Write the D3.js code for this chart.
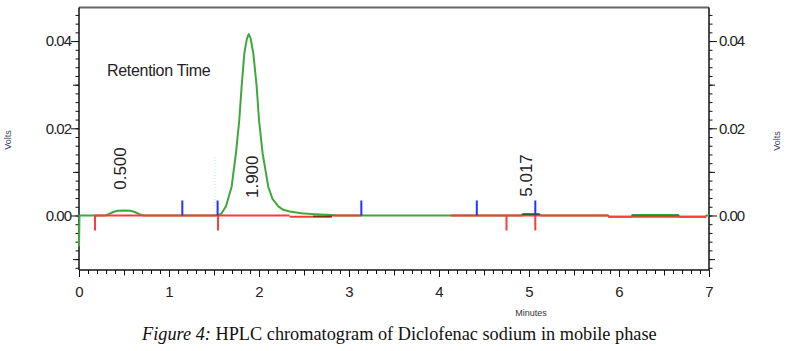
<!DOCTYPE html>
<html>
<head>
<meta charset="utf-8">
<script src="https://cdn.jsdelivr.net/npm/d3@7"></script>
<style>
  html, body { margin: 0; padding: 0; background: #fff; }
  svg { display: block; }
  text { font-family: "Liberation Sans", Arial, sans-serif; }
</style>
</head>
<body>
<svg id="chart" width="792" height="351"></svg>
<script>
// ---- data ----
const traceTime  = [0, 0.005, 0.17, 0.29, 0.33, 0.38, 0.43, 0.5, 0.57, 0.62, 0.67, 0.72, 1.50, 1.55, 1.585, 1.633, 1.696, 1.744, 1.781, 1.807, 1.837, 1.865, 1.886, 1.905, 1.937, 1.974, 2.0, 2.04, 2.103, 2.15, 2.215, 2.27, 2.34, 2.47, 2.62, 2.81, 2.85, 4.92, 4.95, 5.10, 5.14, 5.88, 5.89, 6.14, 6.15, 6.66, 6.67, 6.96, 6.97, 7.0];
const traceVolts = [-0.0071, 0, 0, 0, 0.0003, 0.0008, 0.00110, 0.00115, 0.00110, 0.0008, 0.0003, 0, 0, 0.0001, 0.0005, 0.0021, 0.0066, 0.0143, 0.0219, 0.0296, 0.0372, 0.0405, 0.0416, 0.0408, 0.0372, 0.0296, 0.0219, 0.0143, 0.0066, 0.0038, 0.0021, 0.0013, 0.0009, 0.0005, 0.0003, 0.0001, 0, 0, 0.0003, 0.0003, 0, 0, -0.0003, -0.0003, 0.0001, 0.0001, -0.0003, -0.0003, 0, 0];

const baselineStart = [0.17, 2.34, 2.81, 4.13, 5.88];
const baselineEnd   = [2.34, 2.81, 3.14, 5.88, 6.97];
const baselineLevel = [0, -0.0003, 0, 0, -0.0003];

const eventStarts = [1.148, 1.54, 3.137, 4.42, 5.07];   // blue marks
const eventEnds   = [0.178, 1.545, 4.75, 5.07];         // red marks

const peakLabels = ["0.500", "1.900", "5.017"];
const peakLabelTime  = [0.456, 1.922, 4.967];
const peakLabelVolts = [0.0059, 0.0040, 0.0043];

const xTickLabels = [0, 1, 2, 3, 4, 5, 6, 7];
const yTickLabels = [0.00, 0.02, 0.04];

const annotation = "Retention Time";
const xTitle = "Minutes";
const yTitle = "Volts";
const captionItalic = "Figure 4:";
const captionRest = " HPLC chromatogram of Diclofenac sodium in mobile phase";

// ---- chart ----
const svg = d3.select("#chart");
const x = d3.scaleLinear().domain([0, 7]).range([79, 709]);
const y = d3.scaleLinear().domain([-0.0125, 0.0477]).range([270, 7.5]);
const [x0, x1] = x.range();
const [yb, yt] = y.range();

const textCol = "#222";

// minor / medium / major ticks
const yMinor = d3.range(-12, 47, 2).map(d => d / 1000);
const yMed = [-0.01, 0.01, 0.03];
const xMinor = d3.range(0, 71).map(d => d / 10);
const xMed = d3.range(0, 7).map(d => d + 0.5);

function styleAxis(g) {
  g.select(".domain").remove();
  g.selectAll(".tick line").attr("stroke", "#111").attr("stroke-width", 1);
  g.selectAll(".tick text").attr("fill", textCol).style("font-size", "15px").style("letter-spacing", "-1px");
}

// left
const gl = svg.append("g").attr("transform", `translate(${x0},0)`);
gl.append("g").call(d3.axisLeft(y).tickValues(yMinor).tickSize(3.5).tickFormat("")).call(styleAxis);
gl.append("g").call(d3.axisLeft(y).tickValues(yMed).tickSize(6).tickFormat("")).call(styleAxis);
gl.append("g").call(d3.axisLeft(y).tickValues(yTickLabels).tickSize(8).tickPadding(0).tickFormat(d3.format(".2f"))).call(styleAxis);

// right
const gr = svg.append("g").attr("transform", `translate(${x1},0)`);
gr.append("g").call(d3.axisRight(y).tickValues(yMinor).tickSize(3.5).tickFormat("")).call(styleAxis);
gr.append("g").call(d3.axisRight(y).tickValues(yMed).tickSize(6).tickFormat("")).call(styleAxis);
gr.append("g").call(d3.axisRight(y).tickValues(yTickLabels).tickSize(8).tickPadding(2).tickFormat(d3.format(".2f"))).call(styleAxis);

// bottom
const gb = svg.append("g").attr("transform", `translate(0,${yb})`);
gb.append("g").call(d3.axisBottom(x).tickValues(xMinor).tickSize(4).tickFormat("")).call(styleAxis);
gb.append("g").call(d3.axisBottom(x).tickValues(xMed).tickSize(5.5).tickFormat("")).call(styleAxis);
gb.append("g").call(d3.axisBottom(x).tickValues(xTickLabels).tickSize(7).tickPadding(9.5).tickFormat(d3.format("d"))).call(styleAxis);
gb.selectAll(".tick text").style("letter-spacing", "0px");

// frame
svg.append("line").attr("x1", x0).attr("x2", x1).attr("y1", yt).attr("y2", yt).attr("stroke", "#666").attr("stroke-width", 2);
svg.append("line").attr("x1", x0).attr("x2", x0).attr("y1", yt).attr("y2", yb).attr("stroke", "#111").attr("stroke-width", 1.5);
svg.append("line").attr("x1", x1).attr("x2", x1).attr("y1", yt).attr("y2", yb).attr("stroke", "#111").attr("stroke-width", 1.5);
svg.append("line").attr("x1", x0).attr("x2", x1).attr("y1", yb).attr("y2", yb).attr("stroke", "#111").attr("stroke-width", 1.5);

// faint dotted cyan marker
svg.append("line")
  .attr("x1", x(1.51)).attr("x2", x(1.51))
  .attr("y1", y(0.0134)).attr("y2", y(0.002))
  .attr("stroke", "#bfe6ee").attr("stroke-width", 1).attr("stroke-dasharray", "1,2");

// trace
const trace = traceTime.map((t, i) => [t, traceVolts[i]]);
svg.append("path")
  .datum(trace)
  .attr("fill", "none")
  .attr("stroke", "#3ea83e")
  .attr("stroke-width", 2)
  .attr("stroke-linejoin", "round")
  .attr("d", d3.line().x(d => x(d[0])).y(d => y(d[1])));

// baseline segments
svg.append("g").selectAll("line").data(baselineStart).join("line")
  .attr("x1", (d) => x(d)).attr("x2", (d, i) => x(baselineEnd[i]))
  .attr("y1", (d, i) => y(baselineLevel[i])).attr("y2", (d, i) => y(baselineLevel[i]))
  .attr("stroke", "#ff3b3b").attr("stroke-width", 2);

// dark overlays where trace sits on baseline
svg.append("line").attr("x1", x(2.6)).attr("x2", x(2.81)).attr("y1", y(-0.0002)).attr("y2", y(-0.0002))
  .attr("stroke", "#8a2a10").attr("stroke-width", 1.5);
svg.append("line").attr("x1", x(4.92)).attr("x2", x(5.12)).attr("y1", y(0.0003)).attr("y2", y(0.0003))
  .attr("stroke", "#2a5a1a").attr("stroke-width", 1.5);
svg.append("line").attr("x1", x(6.14)).attr("x2", x(6.66)).attr("y1", y(0.0)).attr("y2", y(0.0))
  .attr("stroke", "#2f8a2f").attr("stroke-width", 1.5);

// event marks
svg.append("g").selectAll("line").data(eventEnds).join("line")
  .attr("x1", d => x(d)).attr("x2", d => x(d))
  .attr("y1", y(0)).attr("y2", y(0) + 15)
  .attr("stroke", "#ff3b3b").attr("stroke-width", 2);
svg.append("g").selectAll("line").data(eventStarts).join("line")
  .attr("x1", d => x(d)).attr("x2", d => x(d))
  .attr("y1", y(0)).attr("y2", y(0) - 15)
  .attr("stroke", "#2233ff").attr("stroke-width", 2);

// peak labels
svg.append("g").selectAll("text").data(peakLabels).join("text")
  .attr("transform", (d, i) => `translate(${x(peakLabelTime[i])},${y(peakLabelVolts[i])}) rotate(-90)`)
  .attr("dy", "0.36em")
  .attr("text-anchor", "start")
  .attr("fill", textCol)
  .style("font-size", "17px")
  .text(d => d);

// annotation
svg.append("text").attr("x", 107).attr("y", 76).attr("fill", textCol)
  .style("font-size", "16px").style("letter-spacing", "-0.3px").text(annotation);

// axis titles
svg.append("text").attr("transform", "translate(11,140) rotate(-90)").attr("text-anchor", "middle")
  .attr("fill", "#3a3f66").style("font-size", "9px").text(yTitle);
svg.append("text").attr("transform", "translate(780,141) rotate(-90)").attr("text-anchor", "middle")
  .attr("fill", "#3a3f66").style("font-size", "9px").text(yTitle);
svg.append("text").attr("x", 531).attr("y", 316).attr("text-anchor", "middle")
  .attr("fill", "#333").style("font-size", "9px").text(xTitle);

// caption
const cap = svg.append("text").attr("x", 142).attr("y", 340).attr("fill", "#111")
  .style("font-family", "'Liberation Serif', 'Times New Roman', serif").style("font-size", "17px");
cap.append("tspan").style("font-style", "italic").text(captionItalic);
cap.append("tspan").text(captionRest);
const w = cap.node().getComputedTextLength();
cap.style("font-size", (17 * 515 / w).toFixed(2) + "px");
</script>
</body>
</html>
